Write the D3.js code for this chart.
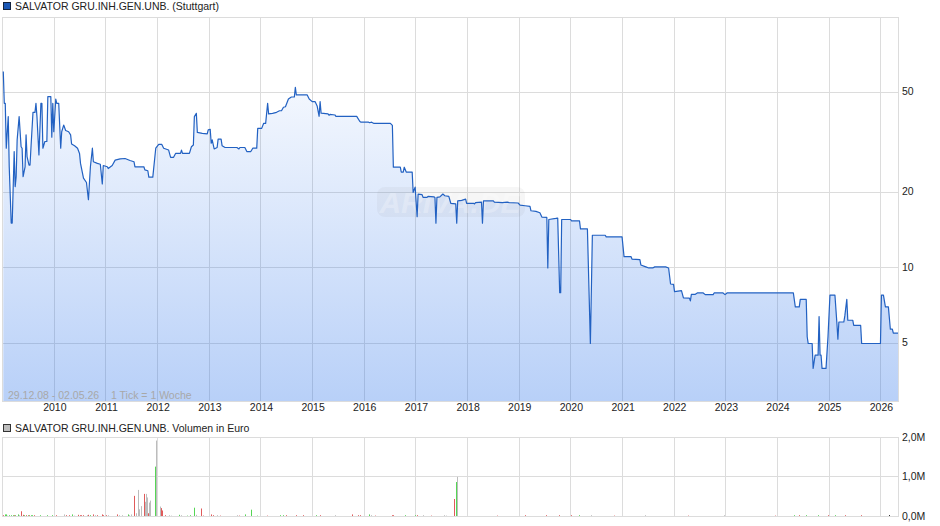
<!DOCTYPE html>
<html><head><meta charset="utf-8">
<script src="https://cdn.jsdelivr.net/npm/d3@7"></script>
<style>html,body{margin:0;padding:0;background:#fff}svg{display:block}text{font-family:"Liberation Sans",Arial,sans-serif;font-size:10.5px;fill:#222}</style>
</head><body><svg id="c" width="940" height="526"></svg>
<script>
const titlePrice = "SALVATOR GRU.INH.GEN.UNB. (Stuttgart)";
const titleVolume = "SALVATOR GRU.INH.GEN.UNB. Volumen in Euro";
const captionRange = "29.12.08 - 02.05.26";
const captionTick = "1 Tick = 1 Woche";
const watermark = "ARIVA.DE";
const years = [2010,2011,2012,2013,2014,2015,2016,2017,2018,2019,2020,2021,2022,2023,2024,2025,2026];
const priceTicks = [5,10,20,50];
const volumeTicks = [0,1,2];

// week number since 29.12.08
const priceWeeks = [1,2,3,4,6,7,9,10,12,13,14,15,17,19,20,21,23,24,25,27,28,29,31,33,34,35,37,39,40,41,43,45,46,49,50,51,52,54,55,57,59,60,62,64,67,69,70,73,76,78,79,82,85,87,89,91,92,96,99,101,102,106,107,111,114,119,124,129,133,134,143,144,147,148,152,155,158,161,163,168,170,173,175,180,181,182,189,191,193,194,196,197,202,207,208,210,211,212,214,217,218,221,222,225,237,239,240,245,247,251,253,257,258,262,264,266,268,269,273,277,280,282,284,286,289,292,295,296,297,301,308,310,313,316,318,320,321,322,329,330,331,336,337,358,361,362,370,371,373,375,392,394,395,402,403,405,406,408,414,415,417,419,420,424,425,429,430,436,437,438,439,442,445,447,451,453,458,459,460,464,468,469,476,477,478,484,485,486,496,497,505,510,512,521,523,528,533,534,539,543,545,550,551,552,559,561,563,564,565,574,575,583,584,591,594,596,609,610,626,628,635,636,644,645,650,653,657,659,670,673,675,678,679,686,688,694,695,696,700,702,708,710,718,719,728,730,732,799,801,805,806,812,813,814,818,819,821,824,825,826,827,828,832,834,836,841,843,844,845,850,851,853,854,859,860,867,868,887,888,890,892,895,897,899,900,905];
const priceValues = [60.6,45.3,45.3,30,40.1,25.3,15.1,15.1,29.1,21.1,23.1,32.4,40.1,30.4,30,23.1,25.3,33.9,27.8,25.7,25.7,30.4,41.7,41.7,45.3,40.1,28.2,45.3,45.3,30,31.9,31.9,48.2,48.2,33.2,45.3,34.9,47.1,45.3,45.3,30,34.9,37.1,35.3,34.9,33.9,31.2,30.7,30,28.6,26.1,22.8,21.9,18.7,25.3,30,26.5,26.1,25.9,21.6,25.6,25.3,24.9,25.6,26.9,27.2,27.3,26.8,26.5,25.3,25.3,24.6,24.4,23,23,30,31.1,31.1,30,29.5,27.6,27.6,28.6,28.6,29.5,28.6,28.6,30.4,30.9,40.1,41.3,34.7,34.4,34.2,35.5,35.7,31.4,32.4,29.8,30.2,32.6,32.6,30.7,30.2,30.2,29.8,30.2,30.2,29.1,29.1,30,30,36,36,37.7,37.7,45.3,41.1,41.3,41.7,42.3,42.3,43.7,43.9,47.1,48,48,52.4,48.9,48.9,48.9,47.1,46,46,44.2,40.2,46,41.4,41.1,40.6,40.9,40.7,40.2,40.2,38.4,38.1,38.1,37.9,38.1,37.7,37.7,37,25.2,25.2,24.1,24.1,25.2,24.1,24.1,20,21,16,19.7,19.6,19.1,19.1,19.3,19.2,19.1,15.07,19.1,19.2,19.7,19.4,19.3,18.1,18,15.07,18.5,18.6,18.8,18.1,18.1,18,18.2,18.3,15.07,18.5,18.5,18.3,18.2,18.3,18.2,18.15,17.8,17.7,17.6,16.9,16.8,16.6,15.95,15.9,10,15.6,15.75,15.8,7.97,7.97,15.6,15.6,15.4,15.4,14.3,14.3,5,13.5,13.5,13.3,13.3,11.1,11.1,10.85,10.8,10.28,10.1,10,10,10.1,10.1,10,8.63,8.6,8.05,8.12,7.6,7.58,7.39,7.85,7.85,7.95,7.95,7.83,7.83,7.95,7.95,7.83,7.95,7.95,7,7,7.5,7.5,5.32,5,5,3.98,4.49,4.49,6.4,4.49,4.49,3.98,3.98,5.32,7.8,7.8,6.02,5.2,6.09,6.09,6.44,7.5,6.19,6.19,5.9,5.9,5,5,7.8,7.8,7,7,5.7,5.7,5.5,5.5];

const volumeWeeks = [1,3,4,5,7,9,11,12,13,16,17,19,21,22,24,26,27,29,31,33,39,46,51,55,63,65,68,71,73,77,79,80,82,86,87,89,92,94,96,101,102,105,107,116,118,121,127,128,130,134,136,138,139,141,144,145,146,147,148,149,150,155,156,160,161,162,165,169,171,179,181,187,190,194,196,201,203,211,213,217,220,238,240,246,252,258,268,281,284,287,297,304,317,321,337,354,360,362,371,373,377,394,395,407,417,419,425,434,447,449,457,459,460,500,528,550,563,575,583,595,618,650,693,729,781,800,805,812,824,835,842,852,868,896];
const volumeValues = [.02,.04,.04,.01,.02,.02,.02,.02,.02,.04,.02,.12,.03,.02,.02,.02,.02,.02,.02,.02,.02,.02,.02,.02,.04,.02,.02,.04,.01,.03,.02,.02,.02,.02,.03,.02,.04,.02,.02,.04,.02,.02,.02,.04,.02,.02,.04,.02,.04,.51,.07,.66,.17,.25,.56,.36,.56,.47,.07,.34,.39,1.25,1.91,.24,.2,.14,.02,.02,.01,.03,.02,.01,.02,.21,.03,.19,.01,.04,.02,.02,.01,.02,.01,.04,.16,.01,.01,.02,.02,.02,.02,.02,.02,.02,.02,.04,.02,.02,.04,.02,.01,.02,.02,.02,.02,.02,.02,.01,.02,.01,.43,.86,.99,.01,.02,.02,.02,.02,.02,.02,.01,.02,.01,.02,.01,.02,.02,.02,.02,.02,.02,.02,.02,.02];
const volumeKinds = [
 ..."rggkgggrggkrrgrgrggrgggrkrrgkrrrrkrgrkrrrrkrkkgkk",
 ..."rkkkkrkkkrkkgkkrrr",
 ..."kkgkgggkrrrrkrkrgggrggrrrgrkrrrgkrrrggrkrkkrg",
 ..."krrrrrgkrkrkrgrggrgrr"
];
const kindColor = {r:"#e05a5a", g:"#55d655", k:"#bcbcbc"};

const start = new Date(2008,11,29), end = new Date(2026,4,2);
const weekDate = w => new Date(start.getTime() + w*7*864e5);
const x = d3.scaleTime().domain([start,end]).range([2.3,898]);
const y = d3.scaleLog().domain([2.95,100]).range([401,17]);
const yV = d3.scaleLinear().domain([0,2]).range([516,437]);
const snap = v => Math.floor(v)+.5;
const svg = d3.select("#c");
const yearDates = years.map(t=>new Date(t,0,1));
const GRID = "#dcdcdc";
const defs = svg.append("defs");
const g = defs.append("linearGradient").attr("id","fill").attr("gradientUnits","userSpaceOnUse").attr("x1",0).attr("x2",0).attr("y1",72).attr("y2",401);
g.append("stop").attr("offset",0).attr("stop-color","#216ce9").attr("stop-opacity",.04);
g.append("stop").attr("offset",1).attr("stop-color","#216ce9").attr("stop-opacity",.32);
defs.append("clipPath").attr("id","pc").append("rect").attr("x",2).attr("y",17).attr("width",896).attr("height",384);

function panel(top,bottom,hVals,scale){
  const p = svg.append("g");
  p.selectAll(".v").data(yearDates).join("line").attr("x1",d=>snap(x(d))).attr("x2",d=>snap(x(d))).attr("y1",top).attr("y2",bottom).attr("stroke",GRID);
  p.selectAll(".h").data(hVals).join("line").attr("x1",2).attr("x2",898).attr("y1",d=>snap(scale(d))).attr("y2",d=>snap(scale(d))).attr("stroke",GRID);
  p.append("rect").attr("x",2.5).attr("y",top+.5).attr("width",896).attr("height",bottom-top).attr("fill","none").attr("stroke",GRID);
}
panel(17,401,priceTicks,y);
panel(437,516,volumeTicks,yV);

const pts = priceWeeks.map((w,i)=>({d:weekDate(w),v:priceValues[i]}));
svg.append("path").datum(pts).attr("clip-path","url(#pc)").attr("fill","url(#fill)")
  .attr("d",d3.area().x(d=>x(d.d)).y0(401).y1(d=>y(d.v)));

// watermark
svg.append("rect").attr("x",377).attr("y",187).attr("width",148).attr("height",30).attr("rx",8).attr("fill","#8a8a8a").attr("opacity",.08);
svg.append("text").attr("x",450).attr("y",213).attr("text-anchor","middle").text(watermark)
  .style("font-size","30px").style("font-weight","bold").style("font-style","italic").style("fill","#fff").style("opacity",.25);

svg.append("path").datum(pts).attr("clip-path","url(#pc)").attr("fill","none").attr("stroke","#2261c2").attr("stroke-width",1.2).attr("stroke-linejoin","round")
  .attr("d",d3.line().x(d=>x(d.d)).y(d=>y(d.v)));

// volume bars
svg.append("g").selectAll("rect").data(volumeWeeks).join("rect")
  .attr("x",w=>Math.floor(x(weekDate(w)))).attr("width",1)
  .attr("y",(w,i)=>yV(volumeValues[i])).attr("height",(w,i)=>yV(0)-yV(volumeValues[i]))
  .attr("fill",(w,i)=>kindColor[volumeKinds[i]]);

// axes
const ax = svg.append("g").attr("transform","translate(0,401)")
  .call(d3.axisBottom(x).tickValues(yearDates).tickSize(0).tickPadding(3).tickFormat(d=>d.getFullYear()));
const ay = svg.append("g").attr("transform","translate(902,-1)")
  .call(d3.axisRight(y).tickValues(priceTicks).tickSize(0).tickPadding(0).tickFormat(d3.format("d")));
const av = svg.append("g").attr("transform","translate(902,0)")
  .call(d3.axisRight(yV).tickValues(volumeTicks).tickSize(0).tickPadding(0).tickFormat(d=>d3.format(".1f")(d).replace(".",",")+"M"));
[ax,ay,av].forEach(a=>{a.select(".domain").remove();a.selectAll("text").style("font-size","10.5px").style("font-family",'"Liberation Sans",Arial,sans-serif').style("fill","#222");});

// legends and captions
svg.append("rect").attr("x",3.5).attr("y",2.5).attr("width",7).attr("height",7).attr("fill","#1a57b5").attr("stroke","#14233c");
svg.append("text").attr("x",15).attr("y",10).text(titlePrice);
svg.append("rect").attr("x",3.5).attr("y",424.5).attr("width",7).attr("height",7).attr("fill","#bdbdbd").attr("stroke","#333");
svg.append("text").attr("x",15).attr("y",432).text(titleVolume);
svg.append("text").attr("x",8).attr("y",399).text(captionRange).style("fill","#a8a8a8");
svg.append("text").attr("x",111).attr("y",399).text(captionTick).style("fill","#a8a8a8");
if (volumeKinds.length !== volumeWeeks.length) console.error("kinds", volumeKinds.length, volumeWeeks.length);
</script></body></html>
